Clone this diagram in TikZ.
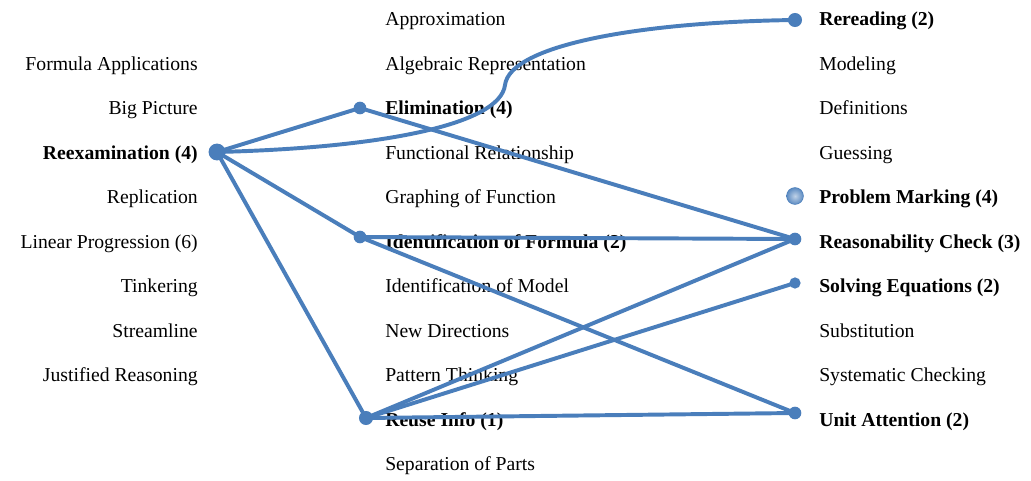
\documentclass[tikz,border=0pt]{standalone}
\usepackage{fontspec}
\setmainfont{Liberation Serif}
\definecolor{linkblue}{RGB}{74,126,187}

\begin{document}
\begin{tikzpicture}[x=0.025cm,y=-0.025cm,
  lbl/.style={inner sep=0pt,font=\fontsize{14}{16}\selectfont},
  hit/.style={inner sep=0pt,font=\fontsize{14}{16}\selectfont\bfseries},
  link/.style={line width=2.8pt,draw=linkblue,line cap=round},
  dot/.style={circle,fill=linkblue,inner sep=0pt,minimum size=#1},
  dot/.default=9pt]
\useasboundingbox (0,0) rectangle (1031,480);
\node[lbl,anchor=mid east] (formapp) at (198,67) {Formula Applications};
\node[lbl,anchor=mid east] (bigpic) at (198,111.5) {Big Picture};
\node[hit,anchor=mid east] (reexlbl) at (198,156) {Reexamination (4)};
\node[lbl,anchor=mid east] (replic) at (198,200.5) {Replication};
\node[lbl,anchor=mid east] (linprog) at (198,245) {Linear Progression (6)};
\node[lbl,anchor=mid east] (tinker) at (198,289.5) {Tinkering};
\node[lbl,anchor=mid east] (stream) at (198,334) {Streamline};
\node[lbl,anchor=mid east] (justif) at (198,378.5) {Justified Reasoning};
\node[lbl,anchor=mid west] (approx) at (385,22) {Approximation};
\node[lbl,anchor=mid west] (algrep) at (385,67) {Algebraic Representation};
\node[hit,anchor=mid west] (elimlbl) at (385,111.5) {Elimination (4)};
\node[lbl,anchor=mid west] (funrel) at (385,156) {Functional Relationship};
\node[lbl,anchor=mid west] (graph) at (385,200.5) {Graphing of Function};
\node[hit,anchor=mid west] (idformlbl) at (385,245) {Identification of Formula (2)};
\node[lbl,anchor=mid west] (idmodel) at (385,289.5) {Identification of Model};
\node[lbl,anchor=mid west] (newdir) at (385,334) {New Directions};
\node[lbl,anchor=mid west] (pattern) at (385,378.5) {Pattern Thinking};
\node[hit,anchor=mid west] (reuselbl) at (385,423) {Reuse Info (1)};
\node[lbl,anchor=mid west] (separ) at (385,467.5) {Separation of Parts};
\node[hit,anchor=mid west] (rereadlbl) at (819,22) {Rereading (2)};
\node[lbl,anchor=mid west] (model) at (819,67) {Modeling};
\node[lbl,anchor=mid west] (defin) at (819,111.5) {Definitions};
\node[lbl,anchor=mid west] (guess) at (819,156) {Guessing};
\node[hit,anchor=mid west] (marklbl) at (819,200.5) {Problem Marking (4)};
\node[hit,anchor=mid west] (reasonlbl) at (819,245) {Reasonability Check (3)};
\node[hit,anchor=mid west] (solvelbl) at (819,289.5) {Solving Equations (2)};
\node[lbl,anchor=mid west] (subst) at (819,334) {Substitution};
\node[lbl,anchor=mid west] (system) at (819,378.5) {Systematic Checking};
\node[hit,anchor=mid west] (unitlbl) at (819,423) {Unit Attention (2)};
\node[dot=12pt] (reex) at (217,152) {};
\node[dot=9pt] (elim) at (360,108) {};
\node[dot=9pt] (idform) at (360,237) {};
\node[dot=10pt] (reuse) at (366,418) {};
\node[dot=10pt] (reread) at (795,20) {};
\node[circle,inner sep=0pt,minimum size=12pt,inner color=linkblue!35!white,outer color=linkblue!90!white,draw=linkblue,thin] (mark) at (795,196) {};
\node[dot] (reason) at (795,239) {};
\node[dot=8pt] (solve) at (795,283) {};
\node[dot] (unit) at (795,413) {};
\draw[link] (reex.center) -- (elim.center) -- (reason.center);
\draw[link] (reex.center) -- (idform.center) -- (reason.center);
\draw[link] (idform.center) -- (unit.center);
\draw[link] (reex.center) -- (reuse.center) -- (reason.center);
\draw[link] (reuse.center) -- (solve.center);
\draw[link] (reuse.center) -- (unit.center);
\draw[link] (reex.center) .. controls (380,148) and (500,125) .. (505,85)
  .. controls (510,45) and (640,22) .. (reread.center);
\end{tikzpicture}
\end{document}
